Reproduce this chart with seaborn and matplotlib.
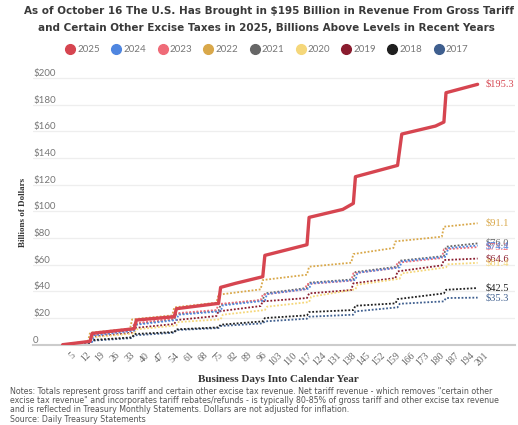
import numpy as np
import matplotlib.pyplot as plt
import seaborn as sns
import pandas as pd
from matplotlib.lines import Line2D

# Cumulative gross tariff + excise revenue, billions of dollars, by business day
years = ["2025", "2024", "2023", "2022", "2021", "2020", "2019", "2018", "2017"]
colors = ["#d64550", "#4f86e0", "#ef6b78", "#d9a84a", "#666666",
          "#f5d77a", "#8a1c2e", "#1f1f1f", "#3f5f8f"]

days_2025 = [1, 14, 15, 35, 36, 54, 55, 75, 76, 83, 96, 97, 117, 118, 134, 139, 140, 160, 162, 178, 182, 183, 198]
vals_2025 = [0, 2.5, 8.5, 12, 18.5, 21, 27, 31, 43, 46, 51, 67, 75, 95.5, 101.5, 106, 126, 134.5, 158, 164, 167, 189, 195.3]

days_2024 = [1, 15, 16, 35, 36, 55, 56, 76, 77, 97, 98, 118, 119, 140, 141, 161, 162, 183, 184, 198]
vals_2024 = [0, 2, 7, 10.5, 15, 18.5, 22.5, 25, 29.5, 33, 38, 42, 46, 48.5, 54, 58, 62.5, 66, 72.5, 74.4]

days_2023 = [1, 14, 15, 34, 35, 53, 54, 74, 75, 95, 96, 116, 117, 138, 139, 159, 160, 181, 182, 198]
vals_2023 = [0, 2.5, 8, 11.5, 16, 19.5, 23.5, 26, 30.5, 33.5, 37.5, 41.5, 45.5, 48, 53.5, 57.5, 61.5, 65, 71.5, 73.2]

days_2022 = [1, 13, 14, 33, 34, 53, 54, 74, 75, 95, 96, 117, 118, 138, 139, 158, 159, 181, 182, 198]
vals_2022 = [0, 2.5, 9, 12, 19, 22, 28, 31.5, 37.5, 41.5, 48.5, 52.5, 58.5, 61.5, 68, 72.5, 77.5, 81, 88.5, 91.1]

days_2021 = [1, 14, 15, 34, 35, 54, 55, 75, 76, 96, 97, 117, 118, 139, 140, 160, 161, 182, 183, 198]
vals_2021 = [0, 2, 7.5, 11, 15.5, 19, 23, 25.5, 30, 33.5, 38.5, 42.5, 46.5, 49, 54.5, 58.5, 63, 66.5, 73.5, 76.0]

days_2020 = [1, 14, 15, 35, 36, 55, 56, 76, 77, 97, 98, 118, 119, 140, 141, 161, 162, 183, 184, 198]
vals_2020 = [0, 2, 5.5, 8.5, 11.5, 14.5, 17, 19, 22.5, 26, 28.5, 32, 36, 41.5, 45, 49.5, 53.5, 58, 60.3, 61.4]

days_2019 = [1, 14, 15, 34, 35, 54, 55, 74, 75, 95, 96, 117, 118, 138, 139, 159, 160, 181, 182, 198]
vals_2019 = [0, 2, 6, 9, 12.5, 15.5, 18.5, 21.5, 25, 29, 32.5, 35, 38.5, 41, 46, 50, 55, 59.5, 63.5, 64.6]

days_2018 = [1, 14, 15, 34, 35, 54, 55, 75, 76, 96, 97, 117, 118, 139, 140, 159, 160, 182, 183, 198]
vals_2018 = [0, 1, 3.5, 5.5, 8, 9.5, 11.5, 13, 15, 17.5, 20, 22, 24.5, 26, 29.2, 31, 34.2, 38.5, 41.2, 42.5]

days_2017 = [1, 14, 15, 34, 35, 54, 55, 75, 76, 96, 97, 117, 118, 139, 140, 160, 161, 182, 183, 198]
vals_2017 = [0, 1, 3, 5, 7, 9, 11, 12.5, 14, 16, 17.5, 19.5, 21, 22.5, 25, 28, 30.7, 32.5, 35, 35.3]

xtick_days = [5, 12, 19, 26, 33, 40, 47, 54, 61, 68, 75, 82, 89, 96, 103, 110,
              117, 124, 131, 138, 145, 152, 159, 166, 173, 180, 187, 194, 201]
ytick_vals = [0, 20, 40, 60, 80, 100, 120, 140, 160, 180, 200]
ytick_labels = ["0", "$20", "$40", "$60", "$80", "$100", "$120", "$140", "$160", "$180", "$200"]

series = {
    "2025": (days_2025, vals_2025), "2024": (days_2024, vals_2024),
    "2023": (days_2023, vals_2023), "2022": (days_2022, vals_2022),
    "2021": (days_2021, vals_2021), "2020": (days_2020, vals_2020),
    "2019": (days_2019, vals_2019), "2018": (days_2018, vals_2018),
    "2017": (days_2017, vals_2017),
}
df = pd.concat([pd.DataFrame({"year": y, "day": d, "value": v})
                for y, (d, v) in series.items()], ignore_index=True)
palette = dict(zip(years, colors))

sns.set_theme(style="white")
plt.rcParams['font.family'] = ['Lato', 'DejaVu Sans']
plt.rcParams['text.parse_math'] = False

fig = plt.figure(figsize=(5.18, 4.25), dpi=100)
ax = fig.add_axes([0.064, 0.188, 0.93, 0.644])

# older years first (dotted), 2025 on top
for y in years[::-1]:
    sub = df[df["year"] == y]
    if y == "2025":
        sns.lineplot(data=sub, x="day", y="value", ax=ax, color=palette[y],
                     lw=2.4, estimator=None, sort=False, zorder=5)
    else:
        sns.lineplot(data=sub, x="day", y="value", ax=ax, color=palette[y],
                     lw=1.3, linestyle=(0, (1, 1)), estimator=None, sort=False)
    last = sub.iloc[-1]
    ax.annotate(f"${last['value']:.1f}", xy=(last["day"], last["value"]),
                xytext=(6, 0), textcoords="offset points", va="center", ha="left",
                fontsize=7.5, color=palette[y], family="Liberation Serif")

ax.set_xlim(-13, 215.7)
ax.set_ylim(-0.3, 205)
ax.set_xticks(xtick_days)
ax.set_xticklabels([str(d) for d in xtick_days], rotation=45, ha="right",
                   rotation_mode="anchor", fontsize=7, color="#666666",
                   family="Liberation Serif")
ax.set_yticks(ytick_vals)
ax.set_yticklabels(ytick_labels, fontsize=7, color="#777777")
for lbl in ax.get_yticklabels():
    lbl.set_horizontalalignment("left")
    lbl.set_verticalalignment("bottom")
ax.tick_params(axis="y", length=0, pad=0)
ax.tick_params(axis="x", length=0, pad=4)
ax.grid(axis="y", color="#eeeeee", lw=0.9)
ax.grid(axis="x", visible=False)
for s in ["top", "right", "left"]:
    ax.spines[s].set_visible(False)
ax.spines["bottom"].set_color("#cccccc")
ax.spines["bottom"].set_linewidth(1.5)

ax.set_xlabel("")
ax.set_ylabel("")
fig.text(0.537, 1 - 379 / 425, "Business Days Into Calendar Year", ha="center", va="center",
         fontsize=8, fontweight="bold", color="#333333", family="Liberation Serif")
fig.text(0.045, 1 - 212 / 425, "Billions of Dollars", rotation=90, ha="center", va="center",
         fontsize=6.5, fontweight="bold", color="#333333", family="Liberation Serif")

# title
fig.text(0.52, 1 - 11 / 425,
         "As of October 16 The U.S. Has Brought in $195 Billion in Revenue From Gross Tariff",
         ha="center", va="center", fontsize=7.5, fontweight="bold", color="#3a3a3a",
         family="DejaVu Sans")
fig.text(0.515, 1 - 28 / 425,
         "and Certain Other Excise Taxes in 2025, Billions Above Levels in Recent Years",
         ha="center", va="center", fontsize=7.5, fontweight="bold", color="#3a3a3a",
         family="DejaVu Sans")

# legend
handles = [Line2D([], [], marker="o", ls="", markersize=7, color=palette[y]) for y in years]
fig.legend(handles, years, loc="center", bbox_to_anchor=(0.515, 1 - 50 / 425), ncol=9,
           frameon=False, fontsize=7, handletextpad=0.2, columnspacing=1.2,
           labelcolor="#777777", handlelength=1.0)

notes = [
    "Notes: Totals represent gross tariff and certain other excise tax revenue. Net tariff revenue - which removes \"certain other",
    "excise tax revenue\" and incorporates tariff rebates/refunds - is typically 80-85% of gross tariff and other excise tax revenue",
    "and is reflected in Treasury Monthly Statements. Dollars are not adjusted for inflation.",
    "Source: Daily Treasury Statements",
]
for i, line in enumerate(notes):
    fig.text(10 / 518, 1 - (391 + 9.5 * i) / 425, line, ha="left", va="center",
             fontsize=5.7, color="#555555", family="DejaVu Sans")

fig.savefig("out.png", dpi=100)
